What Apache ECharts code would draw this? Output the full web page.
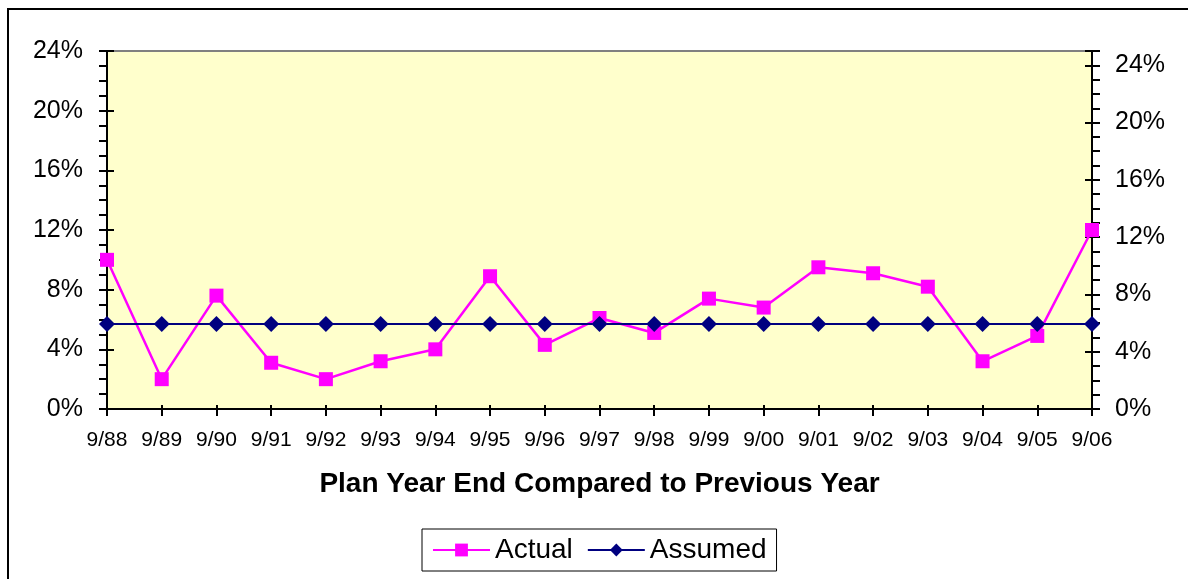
<!DOCTYPE html>
<html>
<head>
<meta charset="utf-8">
<title>Plan Year End Compared to Previous Year</title>
<script src="https://cdn.jsdelivr.net/npm/echarts@6/dist/echarts.min.js"></script>
<style>
  html, body { margin: 0; padding: 0; background: #ffffff; }
  #chart { width: 1188px; height: 579px; }
</style>
</head>
<body>
<div id="chart"></div>
<script>
// Plan years (September year-ends)
const categories = ['9/88', '9/89', '9/90', '9/91', '9/92', '9/93', '9/94', '9/95', '9/96', '9/97',
                    '9/98', '9/99', '9/00', '9/01', '9/02', '9/03', '9/04', '9/05', '9/06'];

// Actual return for each plan year, percent
const actual = [10.0, 2.0, 7.6, 3.1, 2.0, 3.2, 4.0, 8.9, 4.3, 6.1,
                5.1, 7.4, 6.8, 9.5, 9.1, 8.2, 3.2, 4.9, 12.0];

// Assumed rate, percent
const assumed = [5.7, 5.7, 5.7, 5.7, 5.7, 5.7, 5.7, 5.7, 5.7, 5.7,
                 5.7, 5.7, 5.7, 5.7, 5.7, 5.7, 5.7, 5.7, 5.7];

// Axis ranges
const leftMax = 24;
const rightMax = 25;
const labelStep = 4;

const FONT = '"Liberation Sans", Arial, Helvetica, sans-serif';
const pct = v => (v % labelStep === 0 ? v + '%' : '');

const chart = echarts.init(document.getElementById('chart'), null, { renderer: 'canvas' });

// Value axis helper: one axis draws labels and outward ticks every 1%,
// a twin axis draws the inward half of the major ticks.
function valueAxis(position, max, outer) {
  return {
    type: 'value',
    position: position,
    min: 0,
    max: max,
    interval: outer ? 1 : labelStep,
    splitLine: { show: false },
    axisLine: { show: outer, lineStyle: { color: '#000000', width: 2 } },
    axisTick: {
      show: true,
      inside: !outer,
      length: outer ? 8 : 7,
      lineStyle: { color: '#000000', width: 2 }
    },
    axisLabel: outer ? {
      show: true,
      margin: position === 'left' ? 24 : 23,
      formatter: pct,
      color: '#000000',
      fontFamily: FONT,
      fontSize: 25
    } : { show: false }
  };
}

const option = {
  animation: false,
  backgroundColor: '#ffffff',
  textStyle: { fontFamily: FONT },
  graphic: [{
    type: 'rect',
    shape: { x: 8, y: 9, width: 1220, height: 620 },
    style: { fill: 'none', stroke: '#000000', lineWidth: 2 },
    silent: true,
    z: 100
  }],
  grid: {
    left: 107,
    right: 96,
    top: 51,
    bottom: 170,
    show: true,
    backgroundColor: '#FFFFCC',
    borderColor: '#808080',
    borderWidth: 2
  },
  legend: {
    left: 422,
    top: 529,
    orient: 'horizontal',
    padding: [7, 10, 7, 10],
    borderColor: '#000000',
    borderWidth: 1,
    itemWidth: 57,
    itemHeight: 16,
    itemGap: 14,
    textStyle: { color: '#000000', fontFamily: FONT, fontSize: 28 },
    data: ['Actual', 'Assumed']
  },
  xAxis: [{
    type: 'category',
    data: categories,
    boundaryGap: false,
    position: 'bottom',
    axisLine: { show: true, lineStyle: { color: '#000000', width: 2 } },
    axisTick: { show: true, inside: false, length: 7, alignWithLabel: true, lineStyle: { color: '#000000', width: 2 } },
    axisLabel: { margin: 21, color: '#000000', fontFamily: FONT, fontSize: 21, interval: 0 },
    splitLine: { show: false },
    name: 'Plan Year End Compared to Previous Year',
    nameLocation: 'middle',
    nameGap: 61,
    nameTextStyle: { color: '#000000', fontFamily: FONT, fontSize: 28, fontWeight: 'bold' }
  }, {
    type: 'category',
    data: categories,
    boundaryGap: false,
    position: 'bottom',
    axisLine: { show: false },
    axisTick: { show: true, inside: true, length: 4, lineStyle: { color: '#000000', width: 2 } },
    axisLabel: { show: false },
    splitLine: { show: false }
  }],
  yAxis: [
    valueAxis('left', leftMax, true),
    valueAxis('left', leftMax, false),
    valueAxis('right', rightMax, true),
    valueAxis('right', rightMax, false)
  ],
  series: [{
    name: 'Actual',
    type: 'line',
    xAxisIndex: 0,
    yAxisIndex: 0,
    data: actual,
    symbol: 'rect',
    symbolSize: 14,
    color: '#FF00FF',
    lineStyle: { color: '#FF00FF', width: 2.5 },
    itemStyle: { color: '#FF00FF' }
  }, {
    name: 'Assumed',
    type: 'line',
    xAxisIndex: 0,
    yAxisIndex: 0,
    data: assumed,
    symbol: 'diamond',
    symbolSize: 16,
    color: '#000080',
    lineStyle: { color: '#000080', width: 2 },
    itemStyle: { color: '#000080' }
  }]
};

chart.setOption(option);
</script>
</body>
</html>
